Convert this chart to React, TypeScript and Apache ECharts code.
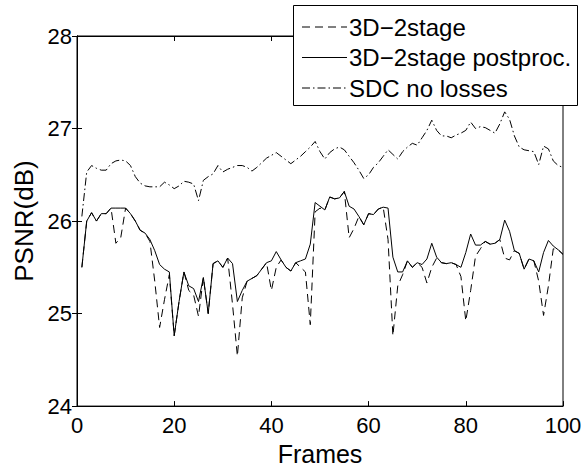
import React, { useEffect, useRef } from "react";
import * as echarts from "echarts";

const xTicks = [0, 20, 40, 60, 80, 100];
const yTicks = [24, 25, 26, 27, 28];

const dashed3D = [
  25.5, 26.0, 26.09, 26.0, 26.08, 26.08, 26.14, 25.76, 25.82, 26.14,
  26.08, 26.0, 25.9, 25.87, 25.78, 25.35, 24.85, 25.15, 25.42, 24.76,
  25.13, 25.45, 25.25, 25.2, 24.97, 25.39, 25.0, 25.54, 25.57, 25.5,
  25.6, 25.1, 24.54, 25.17, 25.35, 25.38, 25.41, 25.48, 25.55, 25.25,
  25.5, 25.58, 25.5, 25.46, 25.55, 25.5, 25.45, 24.88, 26.1, 26.14,
  26.12, 26.26, 26.24, 26.25, 26.32, 25.82, 25.92, 26.05, 25.96, 26.08,
  26.07, 26.13, 26.15, 25.8, 24.76, 25.3, 25.42, 25.57, 25.5, 25.55,
  25.5, 25.33, 25.5, 25.6, 25.55, 25.54, 25.55, 25.53, 25.4, 24.92,
  25.25, 25.62, 25.7, 25.78, 25.75, 25.76, 25.8, 25.6, 25.58, 25.68,
  25.65, 25.48, 25.59, 25.57, 25.35, 24.98, 25.3, 25.7, 25.69, 25.64,
];

const solidPost = [
  25.5, 26.0, 26.09, 26.0, 26.08, 26.08, 26.14, 26.14, 26.14, 26.14,
  26.08, 26.0, 25.9, 25.87, 25.8, 25.68, 25.53, 25.48, 25.45, 24.76,
  25.13, 25.45, 25.3, 25.27, 25.13, 25.39, 25.0, 25.54, 25.57, 25.5,
  25.6, 25.54, 25.13, 25.25, 25.35, 25.38, 25.41, 25.48, 25.55, 25.57,
  25.67, 25.58, 25.5, 25.46, 25.55, 25.57, 25.59, 25.75, 26.2, 26.16,
  26.12, 26.26, 26.24, 26.25, 26.32, 26.16, 26.13, 26.05, 25.96, 26.08,
  26.07, 26.13, 26.15, 26.14, 25.61, 25.45, 25.45, 25.57, 25.5, 25.55,
  25.53, 25.59, 25.76, 25.61, 25.55, 25.54, 25.55, 25.53, 25.5, 25.66,
  25.86, 25.74, 25.74, 25.78, 25.75, 25.76, 25.8, 26.01, 25.89, 25.68,
  25.65, 25.48, 25.59, 25.57, 25.45, 25.66, 25.79, 25.73, 25.69, 25.64,
];

const sdcNoLoss = [
  26.05, 26.53, 26.6, 26.57, 26.55, 26.55, 26.62, 26.65, 26.66, 26.65,
  26.6, 26.48, 26.41, 26.38, 26.37, 26.37, 26.37, 26.42, 26.39, 26.35,
  26.38, 26.43, 26.42, 26.4, 26.22, 26.44, 26.48, 26.51, 26.6, 26.53,
  26.56, 26.58, 26.6, 26.6, 26.58, 26.54, 26.58, 26.63, 26.68, 26.71,
  26.74, 26.7, 26.66, 26.62, 26.66, 26.7, 26.75, 26.8, 26.86, 26.75,
  26.67, 26.74, 26.78, 26.8, 26.77, 26.7, 26.63, 26.55, 26.46, 26.5,
  26.58, 26.63, 26.7, 26.77, 26.72, 26.67, 26.75, 26.8, 26.84, 26.82,
  26.9, 26.98, 27.09, 26.98, 26.92, 26.92, 26.9, 26.93, 26.95, 26.98,
  27.07, 27.0, 27.02, 27.01, 26.98, 26.95, 27.05, 27.18, 27.1, 26.92,
  26.8, 26.77, 26.76, 26.75, 26.61, 26.81, 26.78, 26.65, 26.6, 26.58,
];

const seriesNames = ["3D\u22122stage", "3D\u22122stage postproc.", "SDC no losses"];

const FONT = "'Liberation Sans', Arial, Helvetica, sans-serif";
const DASH = [8, 5];
const DASHDOT = [8, 3, 1.5, 3];
const lineTypes = [DASH, [] as number[], DASHDOT];

const toPairs = (vals: number[]) => vals.map((v, i) => [i + 1, v]);

// legend box geometry (px)
const LEG_X = 293.5;
const LEG_Y = 5.5;
const LEG_W = 284;
const LEG_H = 100;
const LEG_ROW0 = 27;
const LEG_ROW_GAP = 30.5;

export default function App() {
  const ref = useRef<HTMLDivElement>(null);
  useEffect(() => {
    document.body.style.margin = "0";
    if (!ref.current) return;
    const chart = echarts.init(ref.current, null, { renderer: "svg" });
    const axisCommon = {
      type: "value" as const,
      axisLine: { show: true, lineStyle: { color: "#000", width: 1 } },
      axisTick: { show: true, inside: true, length: 5, lineStyle: { color: "#000" } },
      splitLine: { show: false },
    };

    const legendChildren: any[] = [
      {
        type: "rect",
        shape: { x: LEG_X, y: LEG_Y, width: LEG_W, height: LEG_H },
        style: { fill: "#fff", stroke: "#000", lineWidth: 1 },
        z: 100,
      },
    ];
    seriesNames.forEach((name, i) => {
      const cy = LEG_ROW0 + i * LEG_ROW_GAP;
      legendChildren.push({
        type: "line",
        shape: { x1: 302, y1: cy, x2: 347, y2: cy },
        style: {
          stroke: "#000",
          lineWidth: 1,
          lineDash: lineTypes[i].length ? lineTypes[i] : null,
        },
        z: 101,
      });
      legendChildren.push({
        type: "text",
        x: 349,
        y: cy,
        style: {
          text: name,
          fill: "#000",
          font: `24px ${FONT}`,
          verticalAlign: "middle",
          align: "left",
        },
        z: 101,
      });
    });

    chart.setOption({
      animation: false,
      backgroundColor: "#fff",
      textStyle: { fontFamily: FONT },
      grid: {
        left: 77,
        top: 36,
        width: 486,
        height: 377,
        show: true,
        borderColor: "#000",
        borderWidth: 1,
        backgroundColor: "transparent",
      },
      graphic: [{ type: "group", children: legendChildren, z: 100 }],
      xAxis: [
        {
          ...axisCommon,
          position: "bottom",
          min: 0,
          max: 100,
          interval: 20,
          axisLabel: {
            color: "#000",
            fontSize: 22,
            fontFamily: FONT,
            margin: 8,
            formatter: (v: number) => (xTicks.includes(v) ? String(v) : ""),
          },
          name: "Frames",
          nameLocation: "middle",
          nameGap: 30,
          nameTextStyle: { color: "#000", fontSize: 25, fontFamily: FONT },
        },
        {
          ...axisCommon,
          position: "top",
          min: 0,
          max: 100,
          interval: 20,
          axisLabel: { show: false },
        },
      ],
      yAxis: [
        {
          ...axisCommon,
          position: "left",
          min: 24,
          max: 28,
          interval: 1,
          axisLabel: {
            color: "#000",
            fontSize: 22,
            fontFamily: FONT,
            margin: 5,
            formatter: (v: number) => (yTicks.includes(v) ? String(v) : ""),
          },
          name: "PSNR(dB)",
          nameLocation: "middle",
          nameGap: 39,
          nameRotate: 90,
          nameTextStyle: { color: "#000", fontSize: 26, fontFamily: FONT },
        },
        {
          ...axisCommon,
          position: "right",
          min: 24,
          max: 28,
          interval: 1,
          axisLabel: { show: false },
        },
      ],
      series: [
        {
          name: seriesNames[0],
          type: "line",
          data: toPairs(dashed3D),
          symbol: "none",
          z: 2,
          lineStyle: { color: "#000", width: 1, type: DASH },
        },
        {
          name: seriesNames[1],
          type: "line",
          data: toPairs(solidPost),
          symbol: "none",
          z: 3,
          lineStyle: { color: "#000", width: 1, type: "solid" },
        },
        {
          name: seriesNames[2],
          type: "line",
          data: toPairs(sdcNoLoss),
          symbol: "none",
          z: 2,
          lineStyle: { color: "#000", width: 1, type: DASHDOT },
        },
      ],
    });
    return () => chart.dispose();
  }, []);
  return (
    <div
      ref={ref}
      style={{ position: "absolute", left: 0, top: 0, width: 585, height: 471 }}
    />
  );
}
